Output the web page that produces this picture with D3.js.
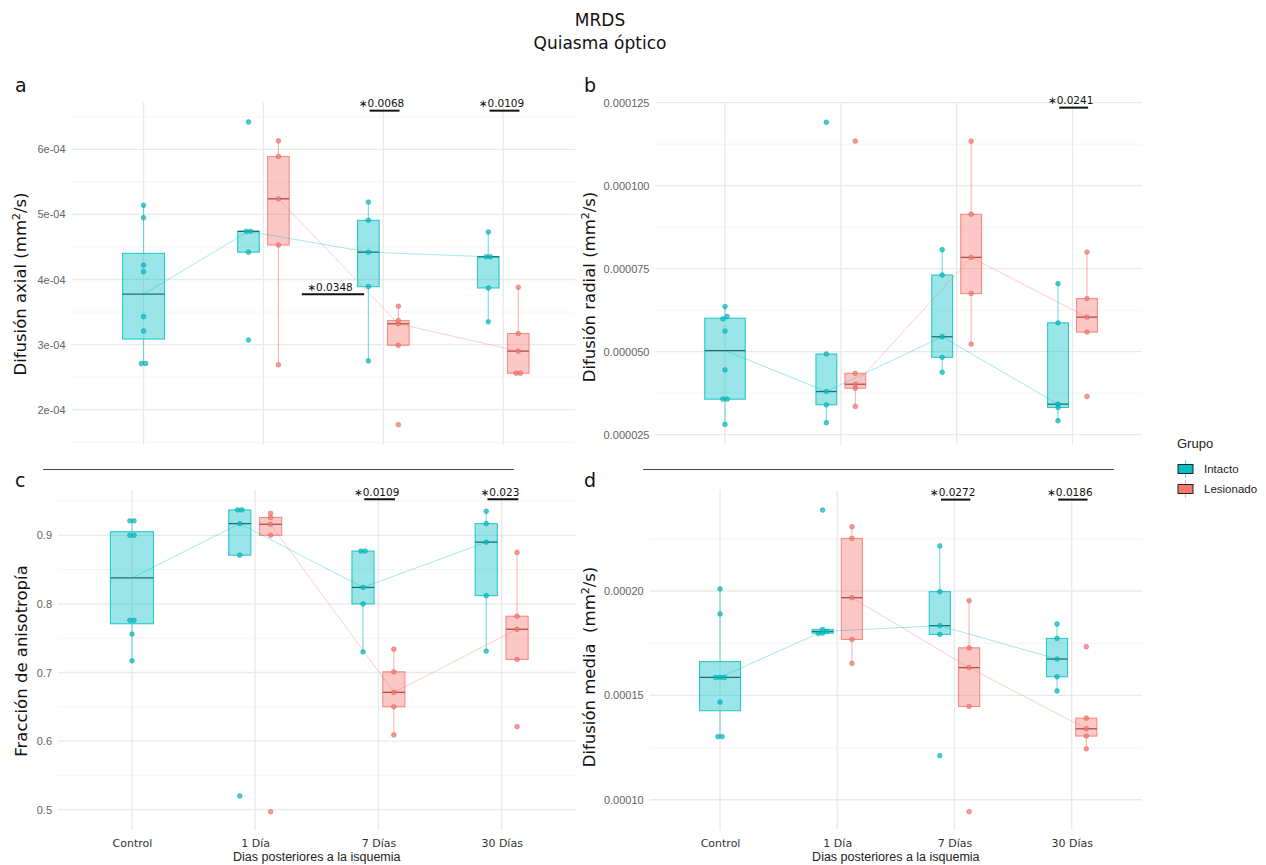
<!DOCTYPE html>
<html>
<head>
<meta charset="utf-8">
<script src="https://cdn.jsdelivr.net/npm/d3@7"></script>
<style>
  body { margin: 0; background: #fff; }
  svg { display: block; }
  text { white-space: pre; }
</style>
</head>
<body>
<svg id="fig" width="1266" height="865"></svg>
<script>
// ---- data -------------------------------------------------------------
const categories = ["Control", "1 Día", "7 Días", "30 Días"];
const groups = ["Intacto", "Lesionado"];
const groupColors = ["#00BFC4", "#F8766D"];
const medianColors = ["#1f6e70", "#a5524c"];

// Difusión axial (mm²/s), one array per time point (null = no group)
const axialIntacto = [
  [5.14e-4, 4.95e-4, 4.22e-4, 4.12e-4, 3.43e-4, 3.21e-4, 2.71e-4, 2.71e-4],
  [6.42e-4, 4.74e-4, 4.74e-4, 4.42e-4, 3.07e-4],
  [5.19e-4, 4.91e-4, 4.42e-4, 3.89e-4, 2.75e-4],
  [4.73e-4, 4.35e-4, 4.35e-4, 3.87e-4, 3.35e-4]
];
const axialLesionado = [
  null,
  [6.13e-4, 5.89e-4, 5.24e-4, 4.53e-4, 2.69e-4],
  [3.59e-4, 3.37e-4, 3.32e-4, 2.99e-4, 1.77e-4],
  [3.88e-4, 3.17e-4, 2.90e-4, 2.56e-4, 2.56e-4]
];
const axialTicks = [2e-4, 3e-4, 4e-4, 5e-4, 6e-4];
const axialTickLabels = ["2e-04", "3e-04", "4e-04", "5e-04", "6e-04"];
const axialLimits = [1.458e-4, 6.727e-4];
const axialSignif = [
  { xmin: 1.32, xmax: 1.84, y: 3.774e-4, label: "\u22170.0348" },
  { xmin: 1.885, xmax: 2.135, y: 6.594e-4, label: "\u22170.0068" },
  { xmin: 2.885, xmax: 3.135, y: 6.594e-4, label: "\u22170.0109" }
];

// Difusión radial (mm²/s)
const radialIntacto = [
  [63.6e-6, 60.6e-6, 59.9e-6, 56.2e-6, 44.5e-6, 35.7e-6, 35.7e-6, 28.1e-6],
  [119.1e-6, 49.3e-6, 38.0e-6, 34.0e-6, 28.6e-6],
  [80.7e-6, 73.1e-6, 54.5e-6, 48.3e-6, 43.8e-6],
  [70.5e-6, 58.7e-6, 34.2e-6, 33.2e-6, 29.2e-6]
];
const radialLesionado = [
  null,
  [113.4e-6, 43.5e-6, 40.2e-6, 39.0e-6, 33.5e-6],
  [113.4e-6, 91.4e-6, 78.4e-6, 67.5e-6, 52.3e-6],
  [80.0e-6, 66.0e-6, 60.4e-6, 55.9e-6, 36.5e-6]
];
const radialTicks = [25e-6, 50e-6, 75e-6, 100e-6, 125e-6];
const radialTickLabels = ["0.000025", "0.000050", "0.000075", "0.000100", "0.000125"];
const radialLimits = [21.9e-6, 125.2e-6];
const radialSignif = [
  { xmin: 2.885, xmax: 3.135, y: 123.5e-6, label: "\u22170.0241" }
];

// Fracción de anisotropía
const faIntacto = [
  [0.921, 0.921, 0.900, 0.900, 0.776, 0.776, 0.756, 0.717],
  [0.937, 0.937, 0.917, 0.871, 0.520],
  [0.877, 0.877, 0.824, 0.800, 0.730],
  [0.935, 0.917, 0.890, 0.812, 0.731]
];
const faLesionado = [
  null,
  [0.932, 0.926, 0.916, 0.900, 0.497],
  [0.734, 0.701, 0.671, 0.650, 0.609],
  [0.875, 0.782, 0.763, 0.719, 0.621]
];
const faTicks = [0.5, 0.6, 0.7, 0.8, 0.9];
const faTickLabels = ["0.5", "0.6", "0.7", "0.8", "0.9"];
const faLimits = [0.4704, 0.966];
const faSignif = [
  { xmin: 1.885, xmax: 2.135, y: 0.9525, label: "\u22170.0109" },
  { xmin: 2.885, xmax: 3.135, y: 0.9525, label: "\u22170.023" }
];

// Difusión media (mm²/s)
const mdIntacto = [
  [201.0e-6, 189.0e-6, 158.6e-6, 158.6e-6, 158.6e-6, 146.8e-6, 130.2e-6, 130.2e-6],
  [238.8e-6, 181.6e-6, 180.6e-6, 179.8e-6, 179.6e-6],
  [221.6e-6, 199.7e-6, 183.4e-6, 179.2e-6, 121.1e-6],
  [184.2e-6, 177.3e-6, 167.4e-6, 158.9e-6, 152.1e-6]
];
const mdLesionado = [
  null,
  [230.8e-6, 225.2e-6, 196.8e-6, 176.8e-6, 165.3e-6],
  [195.4e-6, 172.8e-6, 163.3e-6, 144.7e-6, 94.3e-6],
  [173.3e-6, 139.1e-6, 134.0e-6, 130.5e-6, 124.4e-6]
];
const mdTicks = [100e-6, 150e-6, 200e-6];
const mdTickLabels = ["0.00010", "0.00015", "0.00020"];
const mdLimits = [85.5e-6, 248.4e-6];
const mdSignif = [
  { xmin: 1.885, xmax: 2.135, y: 243.8e-6, label: "\u22170.0272" },
  { xmin: 2.885, xmax: 3.135, y: 243.8e-6, label: "\u22170.0186" }
];

// ---- layout -----------------------------------------------------------
const panels = [
  { letter: "a", series: [axialIntacto, axialLesionado], ticks: axialTicks, tickLabels: axialTickLabels,
    limits: axialLimits, signif: axialSignif, title: ["Difusión axial (mm", "/s)"],
    left: 71.6, right: 575.2, top: 102, bottom: 445, titleX: 26, titleY: 284, letterX: 15, letterY: 92, xAxis: false },
  { letter: "b", series: [radialIntacto, radialLesionado], ticks: radialTicks, tickLabels: radialTickLabels,
    limits: radialLimits, signif: radialSignif, title: ["Difusión radial (mm", "/s)"],
    left: 655.5, right: 1142, top: 102, bottom: 445, titleX: 595, titleY: 287, letterX: 584, letterY: 92, xAxis: false },
  { letter: "c", series: [faIntacto, faLesionado], ticks: faTicks, tickLabels: faTickLabels,
    limits: faLimits, signif: faSignif, title: ["Fracción de anisotropía"],
    left: 58, right: 575.6, top: 490, bottom: 830, titleX: 26.5, titleY: 661, letterX: 15, letterY: 487, xAxis: true },
  { letter: "d", series: [mdIntacto, mdLesionado], ticks: mdTicks, tickLabels: mdTickLabels,
    limits: mdLimits, signif: mdSignif, title: ["Difusión media  (mm", "/s)"],
    left: 649.7, right: 1142, top: 490, bottom: 830, titleX: 595, titleY: 667, letterX: 584, letterY: 487, xAxis: true }
];

const svg = d3.select("#fig");
svg.append("rect").attr("width", 1266).attr("height", 865).attr("fill", "#fff");

function boxStats(values) {
  const s = values.slice().sort(d3.ascending);
  const q1 = d3.quantile(s, 0.25), med = d3.quantile(s, 0.5), q3 = d3.quantile(s, 0.75);
  const iqr = q3 - q1;
  const inside = s.filter(v => v >= q1 - 1.5 * iqr && v <= q3 + 1.5 * iqr);
  return { q1, med, q3, lo: d3.min(inside), hi: d3.max(inside) };
}

function drawPanel(p) {
  const g = svg.append("g");
  const n = categories.length;
  const x = d3.scaleLinear().domain([-0.6, n - 1 + 0.6]).range([p.left, p.right]);
  const y = d3.scaleLinear().domain(p.limits).range([p.bottom, p.top]);
  const step = x(1) - x(0);

  // minor grid lines, halfway between breaks
  const d = p.ticks[1] - p.ticks[0];
  const minor = [];
  for (let v = p.ticks[0] - d / 2; v <= p.limits[1]; v += d) {
    if (v >= p.limits[0]) minor.push(v);
  }
  g.append("g").selectAll("line").data(minor).join("line")
    .attr("x1", p.left).attr("x2", p.right)
    .attr("y1", v => y(v)).attr("y2", v => y(v))
    .attr("stroke", "#f1f1f1").attr("stroke-width", 0.7);
  g.append("g").selectAll("line").data(p.ticks).join("line")
    .attr("x1", p.left).attr("x2", p.right)
    .attr("y1", v => y(v)).attr("y2", v => y(v))
    .attr("stroke", "#e9e9e9").attr("stroke-width", 1.3);
  g.append("g").selectAll("line").data(d3.range(n)).join("line")
    .attr("x1", i => x(i)).attr("x2", i => x(i))
    .attr("y1", p.top).attr("y2", p.bottom)
    .attr("stroke", "#e9e9e9").attr("stroke-width", 1.3);

  // y axis
  const yAxis = g.append("g").attr("transform", `translate(${p.left},0)`)
    .call(d3.axisLeft(y).tickValues(p.ticks).tickFormat((v, i) => p.tickLabels[i]).tickSize(0).tickPadding(6));
  yAxis.select(".domain").remove();
  yAxis.selectAll("text").attr("font-family", "Liberation Sans, Arial, sans-serif")
    .attr("font-size", 11).attr("fill", "#636363");

  if (p.xAxis) {
    const xAxis = g.append("g").attr("transform", `translate(0,${p.bottom})`)
      .call(d3.axisBottom(x).tickValues(d3.range(n)).tickFormat(i => categories[i]).tickSize(0).tickPadding(9));
    xAxis.select(".domain").remove();
    xAxis.selectAll("text").attr("font-family", "DejaVu Sans, sans-serif")
      .attr("font-size", 11).attr("fill", "#333");
    g.append("text").attr("x", (p.left + p.right) / 2).attr("y", 861)
      .attr("text-anchor", "middle").attr("font-family", "Liberation Sans, Arial, sans-serif")
      .attr("font-size", 12.5).attr("fill", "#222").text("Dias posteriores a la isquemia");
  }

  // y title
  const t = g.append("text")
    .attr("transform", `translate(${p.titleX},${p.titleY}) rotate(-90)`)
    .attr("text-anchor", "middle").attr("font-family", "DejaVu Sans, sans-serif")
    .attr("font-size", 16.5).attr("fill", "#111");
  t.append("tspan").text(p.title[0]);
  if (p.title.length > 1) {
    t.append("tspan").attr("dy", -6).attr("font-size", 11).text("2");
    t.append("tspan").attr("dy", 6).text(p.title[1]);
  }

  // panel letter
  g.append("text").attr("x", p.letterX).attr("y", p.letterY)
    .attr("font-family", "DejaVu Sans, sans-serif").attr("font-size", 19).attr("fill", "#111")
    .text(p.letter);

  // per-group box positions
  const boxes = [];
  p.series.forEach((ser, gi) => {
    ser.forEach((vals, ci) => {
      if (!vals) return;
      const dodged = p.series.every(s => s[ci]);
      const cx = dodged ? x(ci) + (gi === 0 ? -0.125 : 0.125) * step : x(ci);
      const w = dodged ? 0.18 * step : 0.35 * step;
      boxes.push({ gi, ci, cx, w, vals, st: boxStats(vals) });
    });
  });

  // whiskers
  g.append("g").selectAll("line").data(boxes.flatMap(b => [
      { b, a: b.st.q3, z: b.st.hi }, { b, a: b.st.q1, z: b.st.lo }]))
    .join("line")
    .attr("x1", o => o.b.cx).attr("x2", o => o.b.cx)
    .attr("y1", o => y(o.a)).attr("y2", o => y(o.z))
    .attr("stroke", o => groupColors[o.b.gi]).attr("stroke-opacity", 0.55).attr("stroke-width", 1.1);

  // boxes
  g.append("g").selectAll("rect").data(boxes).join("rect")
    .attr("x", b => b.cx - b.w / 2).attr("width", b => b.w)
    .attr("y", b => y(b.st.q3)).attr("height", b => Math.max(0.5, y(b.st.q1) - y(b.st.q3)))
    .attr("fill", b => groupColors[b.gi]).attr("fill-opacity", 0.4)
    .attr("stroke", b => groupColors[b.gi]).attr("stroke-opacity", 0.8).attr("stroke-width", 1.1);

  // medians
  g.append("g").selectAll("line").data(boxes).join("line")
    .attr("x1", b => b.cx - b.w / 2).attr("x2", b => b.cx + b.w / 2)
    .attr("y1", b => y(b.st.med)).attr("y2", b => y(b.st.med))
    .attr("stroke", b => medianColors[b.gi]).attr("stroke-width", 1.3);

  // lines joining the medians of each group
  const line = d3.line().x(b => b.cx).y(b => y(b.st.med));
  groups.forEach((_, gi) => {
    const pts = boxes.filter(b => b.gi === gi).sort((a, b2) => a.ci - b2.ci);
    g.append("path").attr("d", line(pts)).attr("fill", "none")
      .attr("stroke", groupColors[gi]).attr("stroke-opacity", 0.45).attr("stroke-width", 0.8);
  });

  // individual observations; coincident values are spread sideways
  const dots = [];
  boxes.forEach(b => {
    const s = b.vals.slice().sort(d3.ascending);
    let cluster = [];
    const flush = () => {
      cluster.forEach((v, k) => dots.push({ gi: b.gi, v, px: b.cx + (k - (cluster.length - 1) / 2) * 4.2 }));
      cluster = [];
    };
    s.forEach(v => {
      if (cluster.length && Math.abs(y(v) - y(cluster[0])) > 2.5) flush();
      cluster.push(v);
    });
    flush();
  });
  g.append("g").selectAll("circle").data(dots).join("circle")
    .attr("cx", o => o.px).attr("cy", o => y(o.v)).attr("r", 2.4)
    .attr("fill", o => groupColors[o.gi]).attr("fill-opacity", 0.75)
    .attr("stroke", o => d3.color(groupColors[o.gi]).darker(0.8)).attr("stroke-opacity", 0.55)
    .attr("stroke-width", 0.7);

  // significance brackets
  p.signif.forEach(s => {
    const yy = y(s.y);
    g.append("line").attr("x1", x(s.xmin)).attr("x2", x(s.xmax))
      .attr("y1", yy).attr("y2", yy).attr("stroke", "#111").attr("stroke-width", 2);
    g.append("text").attr("x", (x(s.xmin) + x(s.xmax)) / 2 - 3).attr("y", yy - 3.5)
      .attr("text-anchor", "middle").attr("font-family", "DejaVu Sans, sans-serif")
      .attr("font-size", 10.5).attr("fill", "#111").text(s.label);
  });
}

panels.forEach(drawPanel);

// separators between the rows
svg.append("line").attr("x1", 43).attr("x2", 514).attr("y1", 469.5).attr("y2", 469.5)
  .attr("stroke", "#444").attr("stroke-width", 1);
svg.append("line").attr("x1", 643).attr("x2", 1114).attr("y1", 469.5).attr("y2", 469.5)
  .attr("stroke", "#444").attr("stroke-width", 1);

// title
svg.append("text").attr("x", 600).attr("y", 26).attr("text-anchor", "middle")
  .attr("font-family", "DejaVu Sans, sans-serif").attr("font-size", 17).attr("fill", "#111").text("MRDS");
svg.append("text").attr("x", 600).attr("y", 49).attr("text-anchor", "middle")
  .attr("font-family", "DejaVu Sans, sans-serif").attr("font-size", 17).attr("fill", "#111").text("Quiasma óptico");

// legend
const lg = svg.append("g").attr("font-family", "Liberation Sans, Arial, sans-serif");
lg.append("text").attr("x", 1177).attr("y", 448).attr("font-size", 13).attr("fill", "#222").text("Grupo");
groups.forEach((name, i) => {
  const cy = 469 + i * 20;
  lg.append("line").attr("x1", 1185.5).attr("x2", 1185.5).attr("y1", cy - 9).attr("y2", cy + 9)
    .attr("stroke", groupColors[i]).attr("stroke-opacity", 0.6).attr("stroke-width", 1.1);
  lg.append("rect").attr("x", 1178).attr("y", cy - 4.5).attr("width", 15).attr("height", 9)
    .attr("fill", groupColors[i]).attr("stroke", "#222").attr("stroke-width", 1);
  lg.append("text").attr("x", 1204).attr("y", cy + 4).attr("font-size", 11.5).attr("fill", "#222").text(name);
});
</script>
</body>
</html>
